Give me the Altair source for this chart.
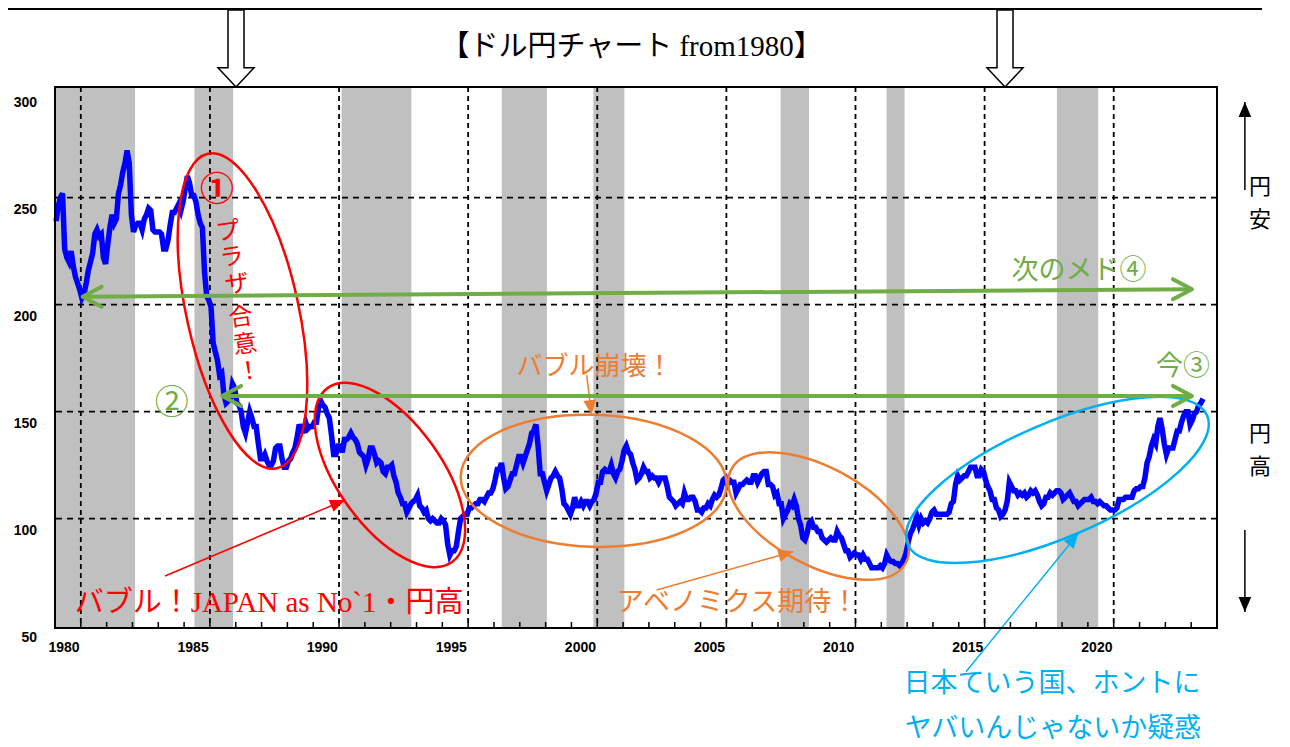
import math
import altair as alt
import pandas as pd

# ---------------- data ----------------
usdjpy = {
    1980: [239, 246, 250, 252, 226, 222, 220, 225, 218, 213, 210, 207],
    1981: [203, 205, 210, 216, 220, 224, 233, 235, 232, 233, 222, 219],
    1982: [228, 236, 242, 238, 240, 252, 256, 262, 266, 272, 266, 242],
    1983: [234, 237, 238, 238, 235, 240, 242, 245, 244, 235, 234, 234],
    1984: [234, 233, 226, 226, 230, 237, 243, 243, 245, 247, 244, 248],
    1985: [254, 260, 257, 251, 251, 248, 242, 238, 236, 215, 204, 202],
    1986: [199, 182, 178, 174, 167, 168, 158, 154, 155, 156, 163, 161],
    1987: [154, 153, 150, 143, 140, 145, 150, 147, 143, 143, 135, 128],
    1988: [128, 130, 127, 125, 125, 127, 133, 134, 134, 128, 124, 124],
    1989: [127, 128, 131, 133, 138, 144, 141, 141, 145, 142, 143, 143],
    1990: [145, 145, 152, 155, 153, 152, 149, 147, 139, 130, 130, 134],
    1991: [134, 131, 137, 137, 138, 140, 138, 137, 135, 131, 130, 129],
    1992: [125, 128, 133, 133, 130, 126, 127, 126, 122, 121, 124, 124],
    1993: [125, 120, 117, 112, 110, 107, 107, 103, 105, 107, 108, 109],
    1994: [111, 106, 105, 103, 104, 100, 99, 100, 99, 98, 98, 100],
    1995: [99, 97, 88, 83, 85, 85, 87, 94, 100, 101, 102, 102],
    1996: [105, 105, 106, 107, 107, 109, 109, 108, 110, 112, 112, 114],
    1997: [118, 123, 123, 126, 119, 114, 115, 118, 121, 121, 125, 129],
    1998: [129, 126, 129, 132, 135, 140, 141, 144, 134, 121, 121, 117],
    1999: [113, 116, 119, 120, 122, 120, 119, 114, 107, 106, 104, 102],
    2000: [105, 110, 106, 106, 108, 106, 108, 108, 106, 108, 109, 112],
    2001: [117, 117, 122, 123, 122, 122, 125, 121, 119, 122, 123, 127],
    2002: [132, 134, 131, 130, 126, 123, 118, 119, 121, 124, 122, 122],
    2003: [119, 120, 119, 119, 117, 119, 119, 119, 115, 110, 109, 108],
    2004: [106, 107, 108, 107, 112, 109, 109, 110, 110, 108, 104, 104],
    2005: [103, 105, 105, 107, 106, 109, 111, 110, 111, 114, 118, 119],
    2006: [116, 118, 117, 117, 112, 114, 116, 116, 117, 118, 117, 117],
    2007: [120, 120, 117, 119, 121, 122, 122, 116, 116, 115, 111, 112],
    2008: [107, 107, 100, 102, 104, 107, 106, 109, 106, 100, 97, 91],
    2009: [90, 93, 98, 99, 96, 96, 94, 94, 91, 90, 89, 90],
    2010: [91, 90, 90, 94, 92, 91, 88, 85, 85, 82, 83, 84],
    2011: [83, 83, 81, 83, 81, 81, 79, 77, 77, 77, 77, 78],
    2012: [77, 79, 83, 81, 80, 80, 79, 79, 78, 79, 81, 84],
    2013: [89, 93, 95, 98, 101, 97, 100, 98, 99, 98, 100, 103],
    2014: [104, 102, 102, 102, 102, 102, 102, 103, 107, 108, 116, 120],
    2015: [118, 119, 120, 120, 122, 124, 124, 124, 120, 120, 123, 122],
    2016: [118, 115, 113, 109, 109, 105, 104, 101, 102, 104, 108, 117],
    2017: [115, 113, 113, 111, 112, 111, 112, 110, 111, 113, 112, 113],
    2018: [111, 108, 106, 107, 110, 110, 112, 111, 112, 113, 113, 112],
    2019: [109, 110, 111, 112, 110, 108, 108, 106, 107, 108, 109, 109],
    2020: [109, 110, 108, 108, 107, 108, 107, 106, 106, 105, 104, 104],
    2021: [104, 105, 109, 109, 109, 110, 110, 110, 110, 113, 114, 114],
    2022: [115, 115, 119, 126, 129, 134, 137, 135, 143, 147, 142, 135],
    2023: [130, 133, 133, 133, 137, 141, 141, 145, 148, 150, 150, 144],
    2024: [146, 149, 150, 153, 154, 156],
}

band_start = [1980.0, 1985.4, 1991.1, 1997.3, 2000.85, 2008.1, 2012.2, 2018.8]
band_end = [1983.1, 1986.9, 1993.8, 1999.05, 2002.05, 2009.2, 2012.9, 2020.4]

vgrid_years = [1981, 1986, 1991, 1996, 2001, 2006, 2011, 2016, 2021]
hgrid_values = [100, 150, 200, 250]
tick_years = list(range(1981, 2025))
x_label_years = [1980, 1985, 1990, 1995, 2000, 2005, 2010, 2015, 2020]
y_label_values = [50, 100, 150, 200, 250, 300]

RED, ORANGE, BLUE, GREEN, BLACK = "#FF0000", "#ED7D31", "#00B0F0", "#70AD47", "#000000"

# annotation ellipses (centre in year / yen)
ell_x = [1987.26, 1992.97, 2000.86, 2009.57, 2018.82]
ell_y = [197.0, 120.4, 117.7, 101.2, 118.1]
ell_color = [RED, RED, ORANGE, ORANGE, BLUE]
ell_half_major = [161, 107, 133, 99, 163]
ell_half_minor = [56, 52, 66, 49, 57]
ell_angle = [77.6, 54.5, 2.0, 28.3, 336.7]

# thin arrows (start -> tip)
arr_x1 = [1984.26, 2000.59, 2003.30, 2015.28, 2026.08, 2026.08]
arr_y1 = [73.2, 167.1, 66.7, 28.5, 253.6, 94.7]
arr_x2 = [1991.23, 2000.78, 2008.59, 2019.63, 2026.08, 2026.08]
arr_y2 = [108.7, 148.4, 84.6, 93.1, 294.7, 56.4]
arr_color = [RED, ORANGE, ORANGE, BLUE, BLACK, BLACK]

# green double arrows
g_x1 = [1981.07, 1986.47]
g_y1 = [203.7, 157.3]
g_x2 = [2024.03, 2024.03]
g_y2 = [207.2, 157.3]

# hollow down arrows at the top
top_arrow_x = [1987.01, 2016.79]
top_arrow_y = [319.7, 319.7]

# top border line of the page
border_x = [1978.18]
border_x2 = [2026.74]
border_y = [338.1]

# texts
sans_text = ["プ", "ラ", "ザ", "合", "意", "！", "②", "バブル崩壊！", "アベノミクス期待！",
             "次のメド④", "今③", "日本ていう国、ホントに", "ヤバいんじゃないか疑惑",
             "円", "安", "円", "高"]
sans_x = [1986.70, 1986.85, 1987.05, 1987.20, 1987.36, 1987.51, 1984.52, 2000.89, 2006.43,
          2019.66, 2023.68, 2018.61, 2018.65, 2026.67, 2026.67, 2026.67, 2026.67]
sans_y = [233.9, 221.8, 209.2, 193.8, 181.1, 168.5, 153.6, 170.9, 60.6,
          215.7, 170.9, 22.5, 1.8, 255.0, 239.5, 139.5, 124.1]
sans_color = [RED] * 6 + [GREEN, ORANGE, ORANGE, GREEN, GREEN, BLUE, BLUE] + [BLACK] * 4
sans_size = [24] * 6 + [34, 26, 27, 27, 27, 27, 27, 22, 22, 22, 22]
sans_angle = [352] * 6 + [0] * 11

serif_text = ["【ドル円チャート from1980】", "バブル！JAPAN as No`1・円高"]
serif_x = [2002.33, 1988.29]
serif_y = [320.4, 60.6]
serif_color = [BLACK, RED]
serif_size = [29, 29]

bold_text = ["①"]
bold_x = [1986.27]
bold_y = [253.1]
bold_color = [RED]
bold_size = [34]

# ---------------- chart ----------------
W, H = 1162, 541
X_DOMAIN = [1980, 2025]
Y_DOMAIN = [48.9, 301.7]
PX_YEAR = W / (X_DOMAIN[1] - X_DOMAIN[0])
PX_YEN = H / (Y_DOMAIN[1] - Y_DOMAIN[0])

xs = alt.Scale(domain=X_DOMAIN, nice=False, zero=False)
ys = alt.Scale(domain=Y_DOMAIN, nice=False, zero=False)


def X(f):
    return alt.X(f, type="quantitative", scale=xs, axis=None)


def Y(f):
    return alt.Y(f, type="quantitative", scale=ys, axis=None)


rows = []
for yr, vals in usdjpy.items():
    for i, v in enumerate(vals):
        rows.append({"t": yr + (i + 0.5) / 12.0, "v": v})
line_df = pd.DataFrame(rows)

bands = alt.Chart(pd.DataFrame({"s": band_start, "e": band_end})).mark_rect(
    color="#C0C0C0").encode(x=X("s"), x2=alt.X2("e"), y=alt.value(0), y2=alt.value(H))

vgrid = alt.Chart(pd.DataFrame({"g": vgrid_years})).mark_rule(
    color="black", strokeWidth=1.8, strokeDash=[5, 4]).encode(x=X("g"))
hgrid = alt.Chart(pd.DataFrame({"g": hgrid_values})).mark_rule(
    color="black", strokeWidth=1.8, strokeDash=[6, 5]).encode(y=Y("g"))

ticks = alt.Chart(pd.DataFrame({"g": tick_years})).mark_rule(
    color="black", strokeWidth=1.5).encode(x=X("g"), y=alt.value(H), y2=alt.value(H - 6))

xlab = alt.Chart(pd.DataFrame({"g": x_label_years, "lab": [str(v) for v in x_label_years]})).mark_text(
    font="Liberation Sans", fontSize=14, fontWeight="bold", color="black", dx=9,
    align="center", baseline="middle").encode(x=X("g"), y=alt.value(H + 20), text="lab:N")
ylab = alt.Chart(pd.DataFrame({"g": y_label_values, "lab": [str(v) for v in y_label_values]})).mark_text(
    font="Liberation Sans", fontSize=14, fontWeight="bold", color="black", dy=12.5,
    align="right", baseline="middle").encode(y=Y("g"), x=alt.value(-18), text="lab:N")

line = alt.Chart(line_df).mark_line(color="#0000FF", strokeWidth=5.5).encode(x=X("t"), y=Y("v"))

K = 0.5523


def ellipse_path(r):
    f = lambda v: f"{v:.4f}"
    return (f"M -1 0 C -1 {f(-K*r)} {f(-K)} {f(-r)} 0 {f(-r)} "
            f"C {f(K)} {f(-r)} 1 {f(-K*r)} 1 0 "
            f"C 1 {f(K*r)} {f(K)} {f(r)} 0 {f(r)} "
            f"C {f(-K)} {f(r)} -1 {f(K*r)} -1 0 Z")


ellipses = []
for i in range(len(ell_x)):
    ellipses.append(
        alt.Chart(pd.DataFrame({"x": [ell_x[i]], "y": [ell_y[i]]})).mark_point(
            shape=ellipse_path(ell_half_minor[i] / ell_half_major[i]),
            size=(2 * ell_half_major[i]) ** 2, angle=ell_angle[i], filled=False,
            stroke=ell_color[i], strokeWidth=2.5, opacity=1).encode(x=X("x"), y=Y("y")))


def screen_angle(x1, y1, x2, y2):
    dx = (x2 - x1) * PX_YEAR
    dy = -(y2 - y1) * PX_YEN
    return math.degrees(math.atan2(dy, dx)) % 360


arr_df = pd.DataFrame({"x1": arr_x1, "y1": arr_y1, "x2": arr_x2, "y2": arr_y2, "c": arr_color,
                       "ang": [screen_angle(a, b, c, d) for a, b, c, d in zip(arr_x1, arr_y1, arr_x2, arr_y2)]})
arr_lines = alt.Chart(arr_df).mark_rule(strokeWidth=1.5).encode(
    x=X("x1"), y=Y("y1"), x2=alt.X2("x2"), y2=alt.Y2("y2"), color=alt.Color("c:N", scale=None))
TRI = "M 0 0 L -1 -0.42 L -1 0.42 Z"
arr_heads = alt.Chart(arr_df).mark_point(shape=TRI, size=900, filled=True, opacity=1, strokeWidth=0).encode(
    x=X("x2"), y=Y("y2"), color=alt.Color("c:N", scale=None), angle=alt.Angle("ang:Q", scale=None))

g_df = pd.DataFrame({"x1": g_x1, "y1": g_y1, "x2": g_x2, "y2": g_y2})
g_lines = alt.Chart(g_df).mark_rule(strokeWidth=4, color=GREEN).encode(
    x=X("x1"), y=Y("y1"), x2=alt.X2("x2"), y2=alt.Y2("y2"))
CHEV = "M -1 -0.53 L 0 0 L -1 0.53"
g_right = alt.Chart(g_df).mark_point(shape=CHEV, size=1444, filled=False, opacity=1, color=GREEN,
                                     strokeWidth=4, strokeCap="round", strokeJoin="round").encode(
    x=X("x2"), y=Y("y2"))
g_left = alt.Chart(g_df).mark_point(shape=CHEV, size=1444, filled=False, opacity=1, color=GREEN,
                                    strokeWidth=4, strokeCap="round", strokeJoin="round", angle=180).encode(
    x=X("x1"), y=Y("y1"))

BLOCK = "M -0.208 -1 L 0.208 -1 L 0.208 0.5 L 0.468 0.5 L 0 1 L -0.468 0.5 L -0.208 0.5 Z"
top_arrows = alt.Chart(pd.DataFrame({"x": top_arrow_x, "y": top_arrow_y})).mark_point(
    shape=BLOCK, size=77 * 77, filled=True, fill="white", stroke="black", strokeWidth=1.5,
    opacity=1).encode(x=X("x"), y=Y("y"))

border = alt.Chart(pd.DataFrame({"x": border_x, "x2": border_x2, "y": border_y})).mark_rule(
    color="black", strokeWidth=2).encode(x=X("x"), x2=alt.X2("x2"), y=Y("y"))


def text_layer(txt, xx, yy, col, sz, ang, font, weight="normal"):
    df = pd.DataFrame({"s": txt, "x": xx, "y": yy, "c": col, "fs": sz, "ang": ang})
    return alt.Chart(df).mark_text(font=font, fontWeight=weight, align="center", baseline="middle").encode(
        x=X("x"), y=Y("y"), text="s:N", color=alt.Color("c:N", scale=None),
        size=alt.Size("fs:Q", scale=None), angle=alt.Angle("ang:Q", scale=None))


t_sans = text_layer(sans_text, sans_x, sans_y, sans_color, sans_size, sans_angle, "Noto Sans CJK JP")
t_serif = text_layer(serif_text, serif_x, serif_y, serif_color, serif_size, [0, 0],
                     "Liberation Serif, Noto Sans CJK JP")
t_bold = text_layer(bold_text, bold_x, bold_y, bold_color, bold_size, [0], "Noto Sans CJK JP", "bold")

frame = alt.Chart(pd.DataFrame({"a": [0]})).mark_rect(
    fillOpacity=0, stroke="black", strokeWidth=2).encode(
    x=alt.value(0), x2=alt.value(W), y=alt.value(0), y2=alt.value(H))

chart = alt.layer(
    bands, vgrid, hgrid, ticks, line, *ellipses, arr_lines, arr_heads, g_lines, g_right, g_left,
    t_sans, t_serif, t_bold, top_arrows, border, frame, xlab, ylab
).properties(
    width=W, height=H,
    autosize=alt.AutoSizeParams(type="none"),
    padding={"left": 47, "top": 79, "right": 57, "bottom": 117},
).configure_view(stroke=None)

chart.save("out.html", embed_options={"renderer": "svg", "actions": False})
